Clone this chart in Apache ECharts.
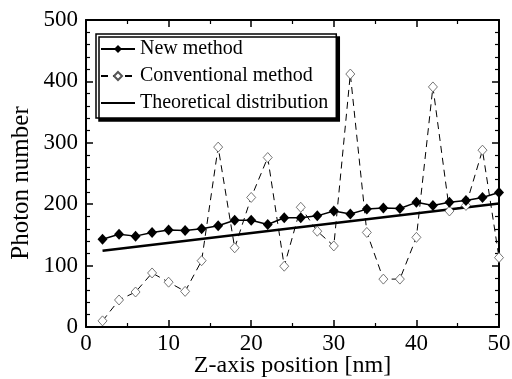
<!DOCTYPE html>
<html><head><meta charset="utf-8">
<script src="https://cdn.jsdelivr.net/npm/echarts@6/dist/echarts.min.js"></script>
<style>html,body{margin:0;padding:0;background:#fff}#c{width:512px;height:379px}</style>
</head><body><div id="c"></div>
<script>
const positions = [2,4,6,8,10,12,14,16,18,20,22,24,26,28,30,32,34,36,38,40,42,44,46,48,50];
const newMethod = [143,151,148,154,158,157,160,165,174,174,167,178,178,181,189,184,192,194,193,203,198,203,206,211,219];
const conventional = [10,44,57,88,73,58,108,293,129,211,276,99,195,156,132,412,154,78,78,146,391,189,198,288,113];
const theoryX = [2,50];
const theoryY = [124,201];
const seriesNames = ['New method','Conventional method','Theoretical distribution'];

const font = 'Liberation Serif';
const chart = echarts.init(document.getElementById('c'));
const zip = (a,b)=>a.map((v,i)=>[v,b[i]]);
function axisBase(split){
  return {
    axisLine:{show:true,onZero:false,lineStyle:{color:'#000',width:2}},
    axisTick:{show:true,inside:true,length:7,lineStyle:{color:'#000',width:1.5}},
    minorTick:{show:true,splitNumber:split,length:4,lineStyle:{color:'#000',width:1.2}},
    splitLine:{show:false}
  };
}
chart.setOption({
  animation:false,
  backgroundColor:'#fff',
  grid:{left:86,right:13,top:20,bottom:52,containLabel:false,outerBoundsMode:'none'},
  legend:{
    left:96,top:34,orient:'vertical',
    data:[
      {name:seriesNames[0]},
      {name:seriesNames[1]},
      {name:seriesNames[2],itemStyle:{color:'transparent',borderWidth:0,opacity:0}}
    ],
    itemWidth:34,itemHeight:10,itemGap:7,
    padding:[5,8,5,4],
    backgroundColor:'#fff',borderColor:'#000',borderWidth:1.5,
    shadowColor:'#000',shadowBlur:0,shadowOffsetX:3,shadowOffsetY:3,
    textStyle:{fontFamily:font,fontSize:20,color:'#000'}
  },
  xAxis:[
    Object.assign(axisBase(2),{type:'value',min:0,max:50,interval:10,
      name:'Z-axis position [nm]',nameLocation:'middle',nameGap:27,nameMoveOverlap:false,
      nameTextStyle:{fontFamily:font,fontSize:24,color:'#000'},
      axisLabel:{fontFamily:font,fontSize:23,color:'#000',margin:5}}),
    Object.assign(axisBase(2),{type:'value',position:'top',min:0,max:50,interval:10,axisLabel:{show:false}})
  ],
  yAxis:[
    Object.assign(axisBase(5),{type:'value',min:0,max:500,interval:100,
      name:'Photon number',nameLocation:'middle',nameGap:52,nameMoveOverlap:false,
      nameTextStyle:{fontFamily:font,fontSize:25,color:'#000',padding:[0,19,0,0]},
      axisLabel:{fontFamily:font,fontSize:23,color:'#000',margin:8}}),
    Object.assign(axisBase(5),{type:'value',position:'right',min:0,max:500,interval:100,axisLabel:{show:false}})
  ],
  series:[
    {name:seriesNames[2],type:'line',data:zip(theoryX,theoryY),symbol:'none',
      lineStyle:{color:'#000',width:2.5},itemStyle:{color:'#000'},z:2},
    {name:seriesNames[1],type:'line',data:zip(positions,conventional),symbol:'diamond',symbolSize:[9,10],
      lineStyle:{color:'#000',width:1,type:[7,5]},
      itemStyle:{color:'#fff',borderColor:'#555',borderWidth:0.8},z:3},
    {name:seriesNames[0],type:'line',data:zip(positions,newMethod),symbol:'diamond',symbolSize:[10,11],
      lineStyle:{color:'#000',width:1.5},itemStyle:{color:'#000'},z:4}
  ]
});
</script></body></html>
